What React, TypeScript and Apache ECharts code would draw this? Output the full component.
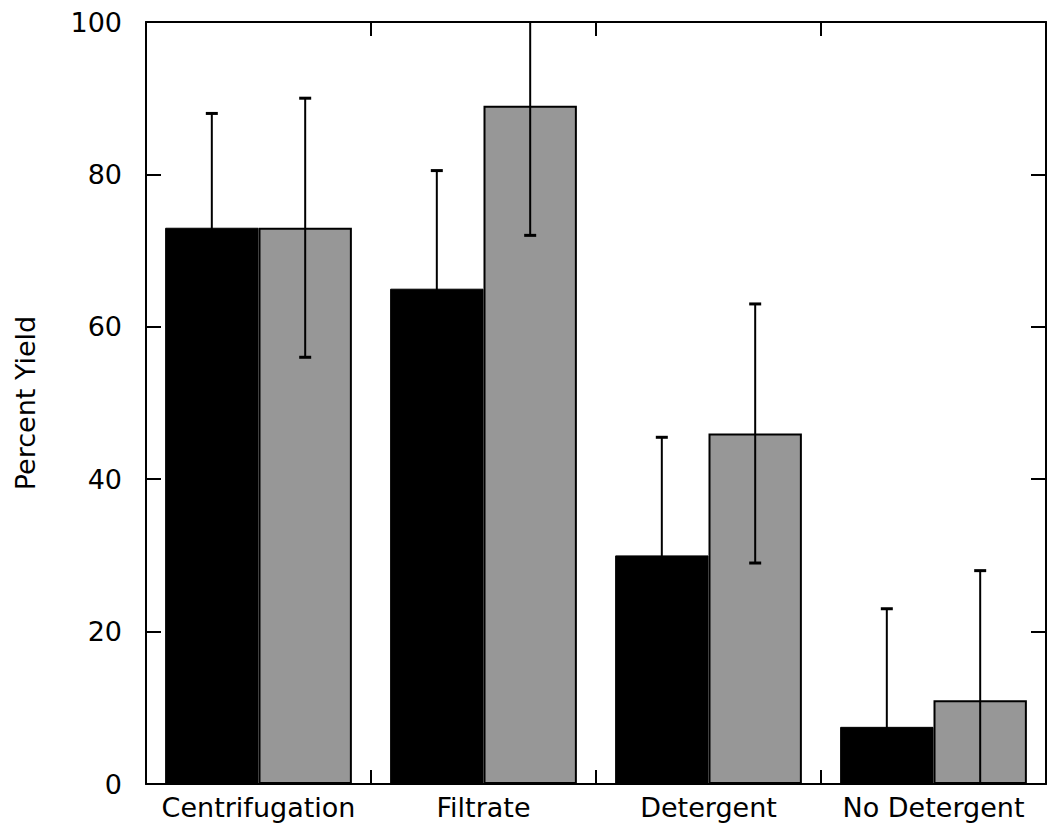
import React, { useEffect, useRef } from "react";
import * as echarts from "echarts";

const categories = ["Centrifugation", "Filtrate", "Detergent", "No Detergent"];
const blackValues = [73, 65, 30, 7.5];
const blackErrors = [15, 15.5, 15.5, 15.5];
const grayValues = [73, 89, 46, 11];
const grayErrors = [17, 17, 17, 17];
const yTicks = [0, 20, 40, 60, 80, 100];

const CAT_GAP = 0.17;
const FONT = "DejaVu Sans";

export default function App() {
  const ref = useRef<HTMLDivElement>(null);
  useEffect(() => {
    document.body.style.margin = "0";
    const chart = echarts.init(ref.current!, undefined, { renderer: "svg" });
    const errData = [
      ...blackValues.map((v, i) => [i, v, blackErrors[i], 0]),
      ...grayValues.map((v, i) => [i, v, grayErrors[i], 1]),
    ];
    const axisLine = { show: true, onZero: false, lineStyle: { color: "#000", width: 2 } };
    const tick = (len: number) => ({
      show: true,
      inside: true,
      length: len,
      lineStyle: { color: "#000", width: 2 },
    });
    chart.setOption({
      animation: false,
      backgroundColor: "#fff",
      grid: { left: 146, right: 2, top: 22, bottom: 43, outerBoundsMode: "none", containLabel: false },
      xAxis: [
        {
          type: "category",
          data: categories,
          position: "bottom",
          axisLine,
          axisTick: { ...tick(14), interval: 0 },
          axisLabel: { color: "#000", fontFamily: FONT, fontSize: 27, margin: 10, interval: 0 },
        },
        {
          type: "category",
          data: categories,
          position: "top",
          axisLine,
          axisTick: { ...tick(14), interval: 0 },
          axisLabel: { show: false },
        },
      ],
      yAxis: [
        {
          type: "value",
          min: yTicks[0],
          max: yTicks[yTicks.length - 1],
          interval: 20,
          position: "left",
          name: "Percent Yield",
          nameLocation: "middle",
          nameGap: 107,
          nameTextStyle: { color: "#000", fontFamily: FONT, fontSize: 27 },
          axisLine,
          axisTick: tick(15),
          axisLabel: { color: "#000", fontFamily: FONT, fontSize: 27, margin: 24 },
          splitLine: { show: false },
        },
        {
          type: "value",
          min: yTicks[0],
          max: yTicks[yTicks.length - 1],
          interval: 20,
          position: "right",
          axisLine,
          axisTick: tick(15),
          axisLabel: { show: false },
          splitLine: { show: false },
        },
      ],
      series: [
        {
          type: "bar",
          data: blackValues,
          barGap: "0%",
          barCategoryGap: CAT_GAP * 100 + "%",
          itemStyle: { color: "#000", borderColor: "#000", borderWidth: 1 },
        },
        {
          type: "bar",
          data: grayValues,
          barGap: "0%",
          barCategoryGap: CAT_GAP * 100 + "%",
          itemStyle: { color: "#979797", borderColor: "#000", borderWidth: 2 },
        },
        {
          type: "custom",
          clip: true,
          z: 10,
          data: errData,
          renderItem: (params: any, api: any) => {
            const cat = api.value(0);
            const v = api.value(1);
            const e = api.value(2);
            const which = api.value(3);
            const band = api.size([1, 0])[0];
            const bw = (band * (1 - CAT_GAP)) / 2;
            const base = api.coord([cat, v]);
            const x = base[0] + (which === 0 ? -bw / 2 : bw / 2);
            const yHi = api.coord([cat, v + e])[1];
            const yLo = api.coord([cat, v - e])[1];
            const cap = 6;
            const style = { stroke: "#000", lineWidth: 2 };
            return {
              type: "group",
              children: [
                { type: "line", shape: { x1: x, y1: yLo, x2: x, y2: yHi }, style },
                { type: "line", shape: { x1: x - cap, y1: yHi, x2: x + cap, y2: yHi }, style: { stroke: "#000", lineWidth: 3 } },
                { type: "line", shape: { x1: x - cap, y1: yLo, x2: x + cap, y2: yLo }, style: { stroke: "#000", lineWidth: 3 } },
              ],
            };
          },
        },
      ],
    });
    return () => chart.dispose();
  }, []);
  return <div ref={ref} style={{ width: 1048, height: 827 }} />;
}
